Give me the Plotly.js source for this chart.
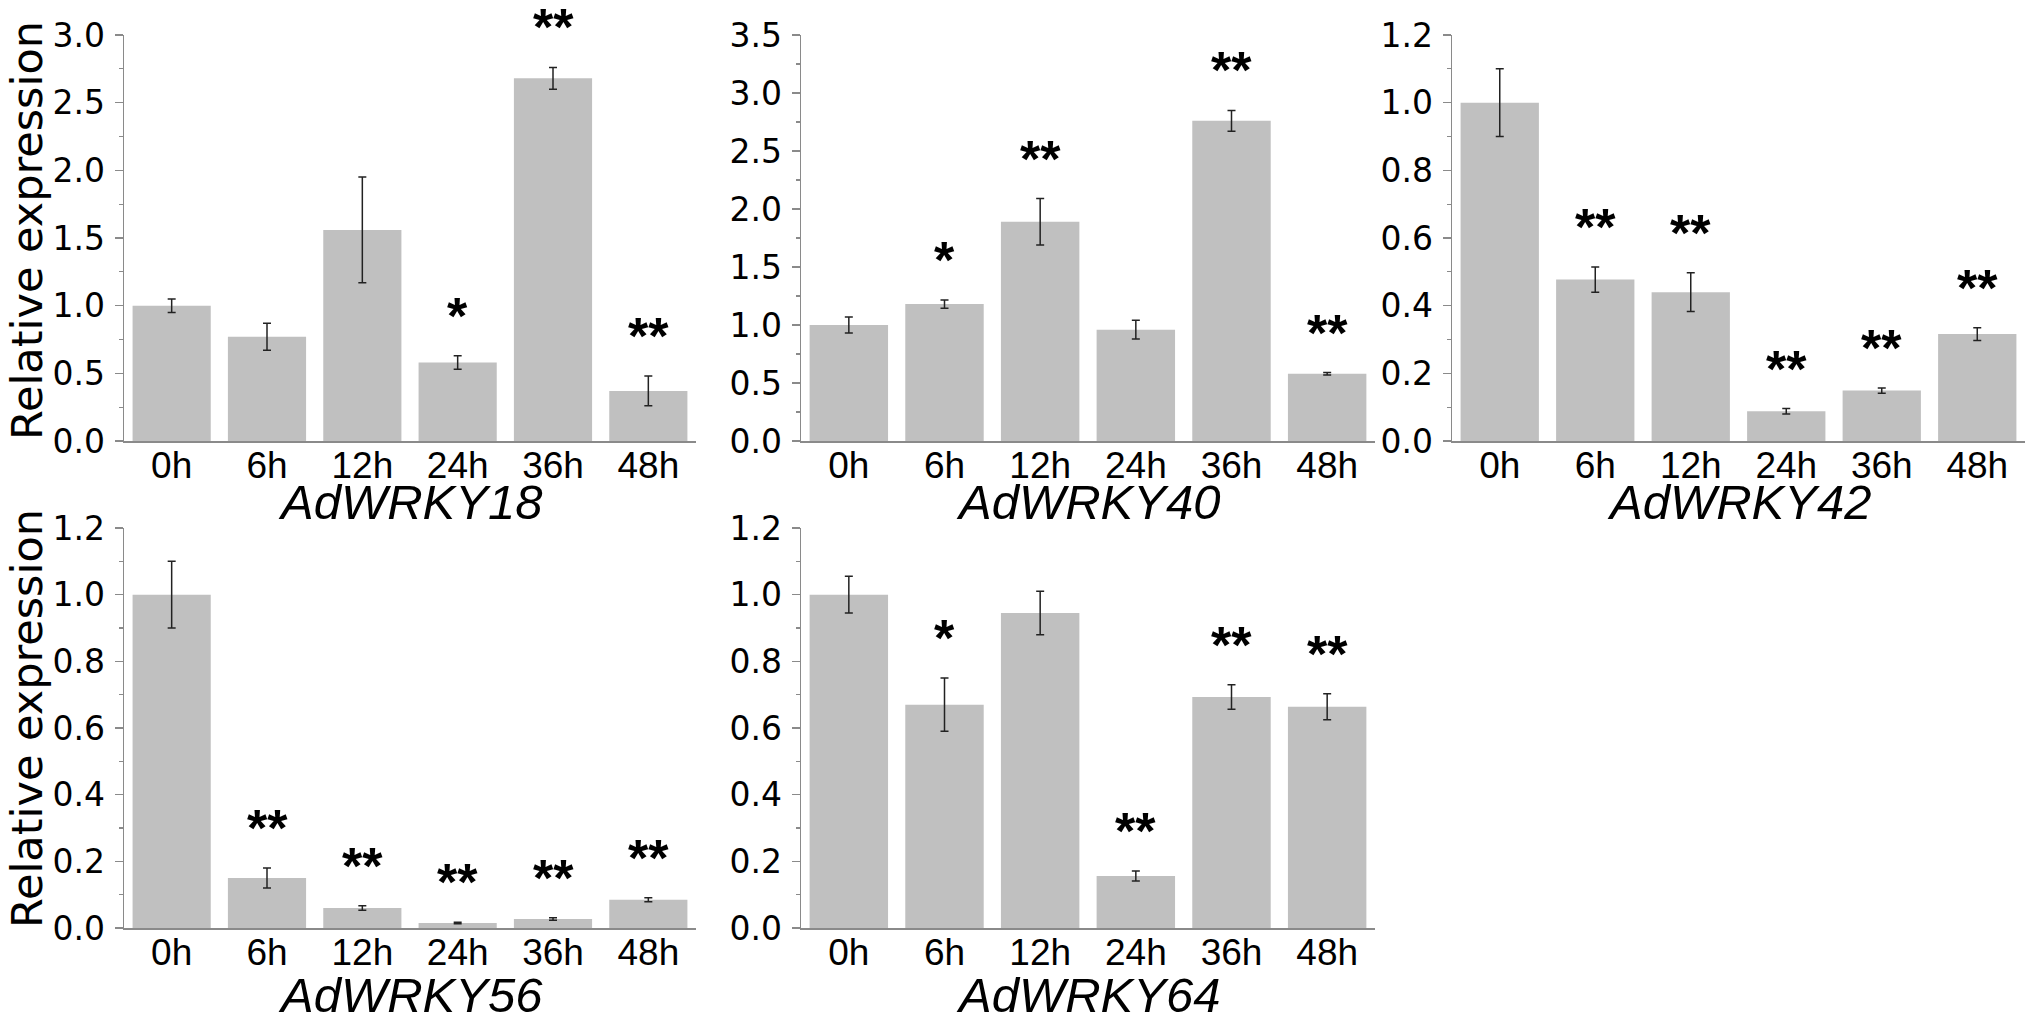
<!DOCTYPE html>
<html>
<head>
<meta charset="utf-8">
<script src="https://cdn.plot.ly/plotly-3.0.1.min.js"></script>
<style>
  body { margin: 0; background: #fff; }
  #chart { width: 2032px; height: 1029px; }
</style>
</head>
<body>
<div id="chart"></div>
<script>
var times = ['0h', '6h', '12h', '24h', '36h', '48h'];

var genes = ['AdWRKY18', 'AdWRKY40', 'AdWRKY42', 'AdWRKY56', 'AdWRKY64'];

var wrky18 = [1.00, 0.77, 1.56, 0.58, 2.68, 0.37];
var err18  = [0.05, 0.10, 0.39, 0.05, 0.08, 0.11];
var sig18  = ['', '', '', '*', '**', '**'];

var wrky40 = [1.00, 1.18, 1.89, 0.96, 2.76, 0.58];
var err40  = [0.07, 0.035, 0.20, 0.08, 0.09, 0.01];
var sig40  = ['', '*', '**', '', '**', '**'];

var wrky42 = [1.00, 0.477, 0.44, 0.088, 0.149, 0.316];
var err42  = [0.10, 0.037, 0.057, 0.008, 0.008, 0.019];
var sig42  = ['', '**', '**', '**', '**', '**'];

var wrky56 = [1.00, 0.15, 0.06, 0.015, 0.027, 0.085];
var err56  = [0.10, 0.03, 0.007, 0.002, 0.004, 0.006];
var sig56  = ['', '**', '**', '**', '**', '**'];

var wrky64 = [1.00, 0.67, 0.945, 0.156, 0.693, 0.664];
var err64  = [0.055, 0.08, 0.065, 0.015, 0.037, 0.039];
var sig64  = ['', '*', '', '**', '**', '**'];

var yMax   = [3.0, 3.5, 1.2, 1.2, 1.2];
var yDtick = [0.5, 0.5, 0.2, 0.2, 0.2];

var values = [wrky18, wrky40, wrky42, wrky56, wrky64];
var errors = [err18, err40, err42, err56, err64];
var sigs   = [sig18, sig40, sig42, sig56, sig64];

// panel placement (paper coords)
var W = 2032, H = 1029;
var colDom = [[124 / W, 696 / W], [801 / W, 1375 / W], [1452 / W, 2025 / W]];
var rowDom = [[1 - 441 / H, 1 - 35 / H], [1 - 928 / H, 1 - 528 / H]];
var cells = [[0, 0], [0, 1], [0, 2], [1, 0], [1, 1]];

var axisGray = '#8a8a8a';
var font = 'Liberation Sans, Arial, sans-serif';
var wideFont = 'DejaVu Sans, Verdana, sans-serif';

var traces = [];
var annotations = [];
var layout = {
    width: W,
    height: H,
    margin: {l: 0, r: 0, t: 0, b: 0},
    paper_bgcolor: '#fff',
    plot_bgcolor: '#fff',
    showlegend: false,
    bargap: 0.18,
    font: {family: font, color: '#000'}
};

for (let i = 0; i < genes.length; i++) {
    var n = i === 0 ? '' : String(i + 1);
    var r = cells[i][0], c = cells[i][1];
    traces.push({
        type: 'bar',
        x: times,
        y: values[i],
        xaxis: 'x' + n,
        yaxis: 'y' + n,
        marker: {color: '#c0c0c0'},
        error_y: {
            type: 'data',
            array: errors[i],
            visible: true,
            color: '#222',
            thickness: 1.5,
            width: 4
        },
        hoverinfo: 'none'
    });

    layout['xaxis' + n] = {
        domain: colDom[c],
        anchor: 'y' + n,
        range: [-0.5, 5.5],
        showline: true,
        linecolor: axisGray,
        linewidth: 1.5,
        ticks: '',
        showgrid: false,
        zeroline: false,
        fixedrange: true,
        ticklabelstandoff: -9,
        tickfont: {family: font, size: 37, color: '#000'}
    };
    layout['yaxis' + n] = {
        domain: rowDom[r],
        anchor: 'x' + n,
        range: [0, yMax[i]],
        dtick: yDtick[i],
        tick0: 0,
        tickformat: '.1f',
        showline: true,
        linecolor: axisGray,
        linewidth: 1.5,
        ticks: 'outside',
        ticklen: 8,
        tickwidth: 1.5,
        tickcolor: axisGray,
        minor: {dtick: yDtick[i] / 2, ticks: 'outside', ticklen: 4, tickcolor: axisGray, tickwidth: 1.2},
        showgrid: false,
        zeroline: false,
        fixedrange: true,
        ticklabelstandoff: 3,
        tickfont: {family: wideFont, size: 33, color: '#000'}
    };

    // significance marks above error bars
    for (let k = 0; k < times.length; k++) {
        if (!sigs[i][k]) continue;
        annotations.push({
            xref: 'x' + n,
            yref: 'y' + n,
            x: times[k],
            y: values[i][k] + errors[i][k],
            text: sigs[i][k],
            showarrow: false,
            xanchor: 'center',
            yanchor: 'middle',
            yshift: 40,
            font: {family: font, size: 52, color: '#000', weight: 'bold'}
        });
    }

    // gene name under the axis
    annotations.push({
        xref: 'paper',
        yref: 'paper',
        x: (colDom[c][0] + colDom[c][1]) / 2,
        y: r === 0 ? 1 - 502 / H : 1 - 995 / H,
        text: '<i>' + genes[i] + '</i>',
        showarrow: false,
        xanchor: 'center',
        yanchor: 'middle',
        font: {family: font, size: 49, color: '#000'}
    });
}

// y axis titles
[231, 719].forEach(function (py) {
    annotations.push({
        xref: 'paper',
        yref: 'paper',
        x: 27 / W,
        y: 1 - py / H,
        text: 'Relative expression',
        textangle: -90,
        showarrow: false,
        xanchor: 'center',
        yanchor: 'middle',
        font: {family: wideFont, size: 43, color: '#000'}
    });
});

layout.annotations = annotations;

Plotly.newPlot('chart', traces, layout, {staticPlot: true});
</script>
</body>
</html>
